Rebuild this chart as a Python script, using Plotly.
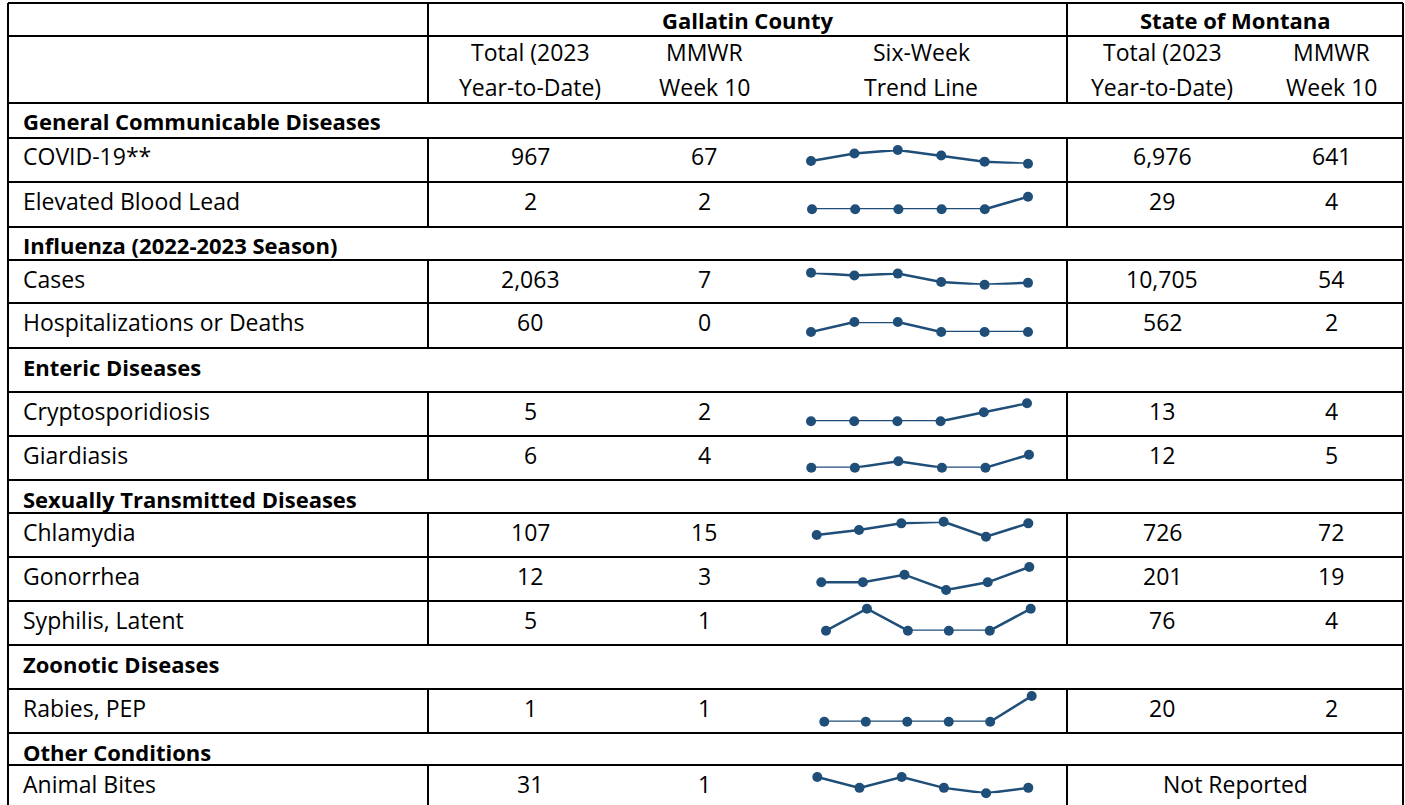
import plotly.graph_objects as go

# ---------------- data ----------------
group_headers = ["Gallatin County", "State of Montana"]
sub_headers = [["Total (2023", "Year-to-Date)"], ["MMWR", "Week 10"], ["Six-Week", "Trend Line"],
               ["Total (2023", "Year-to-Date)"], ["MMWR", "Week 10"]]

row_labels = ["General Communicable Diseases", "COVID-19**", "Elevated Blood Lead",
              "Influenza (2022-2023 Season)", "Cases", "Hospitalizations or Deaths",
              "Enteric Diseases", "Cryptosporidiosis", "Giardiasis",
              "Sexually Transmitted Diseases", "Chlamydia", "Gonorrhea", "Syphilis, Latent",
              "Zoonotic Diseases", "Rabies, PEP", "Other Conditions", "Animal Bites"]
is_section = [True, False, False, True, False, False, True, False, False,
              True, False, False, False, True, False, True, False]

gallatin_total = [None, 967, 2, None, 2063, 60, None, 5, 6, None, 107, 12, 5, None, 1, None, 31]
gallatin_week10 = [None, 67, 2, None, 7, 0, None, 2, 4, None, 15, 3, 1, None, 1, None, 1]
state_total = [None, 6976, 29, None, 10705, 562, None, 13, 12, None, 726, 201, 76, None, 20, None, None]
state_week10 = [None, 641, 4, None, 54, 2, None, 4, 5, None, 72, 19, 4, None, 2, None, None]
not_reported_text = "Not Reported"

weeks = [5, 6, 7, 8, 9, 10]
trend_covid = [71, 82, 87, 79, 70, 67]
trend_lead = [0, 0, 0, 0, 0, 2]
trend_flu_cases = [18, 15, 17, 8, 5, 7]
trend_flu_hosp = [0, 1, 1, 0, 0, 0]
trend_crypto = [0, 0, 0, 0, 1, 2]
trend_giardia = [0, 0, 2, 0, 0, 4]
trend_chlamydia = [8, 11, 15, 16, 7, 15]
trend_gonorrhea = [1, 1, 2, 0, 1, 3]
trend_syphilis = [0, 1, 0, 0, 0, 1]
trend_rabies = [0, 0, 0, 0, 0, 1]
trend_bites = [3, 1, 3, 1, 0, 1]
trends = {1: trend_covid, 2: trend_lead, 4: trend_flu_cases, 5: trend_flu_hosp,
          7: trend_crypto, 8: trend_giardia, 10: trend_chlamydia, 11: trend_gonorrhea,
          12: trend_syphilis, 14: trend_rabies, 16: trend_bites}

# ---------------- layout (pixels) ----------------
W, H = 1405, 805
X_LEFT, X_COL1, X_TREND_END, X_RIGHT = 8, 428, 1067, 1403
header_lines = [3, 36, 103]
row_bounds = [103, 138, 182, 227, 260, 303, 348, 392, 436, 480, 513, 557, 601, 645, 689, 733, 765, 805]
col_centers = [530, 704, 921, 1162, 1331]
group_centers = [747.5, 1235]
# sparkline boxes: (x_first, x_last, y_max, y_min)
spark_boxes = {1: (811, 1028, 150, 163.7), 2: (812, 1028, 196.7, 209.3),
               4: (811, 1028, 272.7, 284.7), 5: (811, 1028, 322, 332),
               7: (811, 1027, 403.3, 421.3), 8: (811.3, 1029, 454.7, 467.7),
               10: (816.7, 1028.3, 521.7, 536.7), 11: (821.3, 1029.3, 567, 590),
               12: (826, 1030.7, 608.7, 630.7), 14: (824.3, 1031.7, 696, 721.7),
               16: (817.3, 1028.3, 777, 793.3)}

FONT = "Open Sans"
FS = 23
FS_BOLD = 22
LINE_COLOR = "#000000"
SPARK_COLOR = "#1F4E79"


def fx(x):
    return x / W


def fy(y):
    return 1 - y / H


fig = go.Figure()
shapes = []
annotations = []


def hline(y, x0=X_LEFT, x1=X_RIGHT, w=2):
    shapes.append(dict(type="line", xref="paper", yref="paper", x0=fx(x0), x1=fx(x1),
                       y0=fy(y), y1=fy(y), line=dict(color=LINE_COLOR, width=w)))


def vline(x, y0, y1, w=2):
    shapes.append(dict(type="line", xref="paper", yref="paper", x0=fx(x), x1=fx(x),
                       y0=fy(y0), y1=fy(y1), line=dict(color=LINE_COLOR, width=w)))


def text(s, x, y, anchor="center", bold=False):
    annotations.append(dict(text=f"<b>{s}</b>" if bold else s, x=fx(x), y=fy(y),
                            xref="paper", yref="paper", xanchor=anchor, yanchor="middle",
                            showarrow=False, borderpad=0,
                            font=dict(family=FONT, size=FS_BOLD if bold else FS,
                                      color="black")))


# outer borders
for y in header_lines:
    hline(y)
for y in row_bounds[:-1]:
    hline(y)
vline(X_LEFT, header_lines[0], H)
vline(X_RIGHT, header_lines[0], H)
# header verticals
vline(X_COL1, header_lines[0], header_lines[-1])
vline(X_TREND_END, header_lines[0], header_lines[-1])

# header text
for s, cx in zip(group_headers, group_centers):
    text(s, cx, 20, bold=True)
for lines, cx in zip(sub_headers, col_centers):
    text(lines[0], cx, 52.5)
    text(lines[1], cx, 86.5)

# body
for i, label in enumerate(row_labels):
    top, bot = row_bounds[i], row_bounds[i + 1]
    cy = top + 18.5
    if is_section[i]:
        text(label, 22, cy, anchor="left", bold=True)
        continue
    vline(X_COL1, top, bot)
    vline(X_TREND_END, top, bot)
    text(label, 22, cy, anchor="left")
    text(f"{gallatin_total[i]:,}", col_centers[0], cy)
    text(f"{gallatin_week10[i]:,}", col_centers[1], cy)
    if state_total[i] is None:
        text(not_reported_text, group_centers[1], cy)
    else:
        text(f"{state_total[i]:,}", col_centers[3], cy)
        text(f"{state_week10[i]:,}", col_centers[4], cy)

# sparklines
layout_axes = {}
for n, (ri, vals) in enumerate(trends.items(), start=1):
    x0, x1, ytop, ybot = spark_boxes[ri]
    xa = "x" if n == 1 else f"x{n}"
    ya = "y" if n == 1 else f"y{n}"
    fig.add_trace(go.Scatter(x=weeks, y=vals, mode="lines+markers", xaxis=xa, yaxis=ya,
                             line=dict(color=SPARK_COLOR, width=2.5),
                             marker=dict(size=10, color=SPARK_COLOR),
                             cliponaxis=False, showlegend=False, hoverinfo="x+y",
                             name=row_labels[ri]))
    key = "" if n == 1 else str(n)
    layout_axes[f"xaxis{key}"] = dict(domain=[fx(x0), fx(x1)], range=[min(weeks), max(weeks)],
                                      visible=False, fixedrange=True,
                                      anchor=ya)
    layout_axes[f"yaxis{key}"] = dict(domain=[fy(ybot), fy(ytop)], range=[min(vals), max(vals)],
                                      visible=False, fixedrange=True,
                                      anchor=xa)

fig.update_layout(width=W, height=H, margin=dict(l=0, r=0, t=0, b=0),
                  paper_bgcolor="white", plot_bgcolor="rgba(0,0,0,0)",
                  shapes=shapes, annotations=annotations, showlegend=False,
                  **layout_axes)

fig.write_html("out.html", config={"displayModeBar": False},
               post_script="document.body.style.margin='0';document.body.style.overflow='hidden';")
